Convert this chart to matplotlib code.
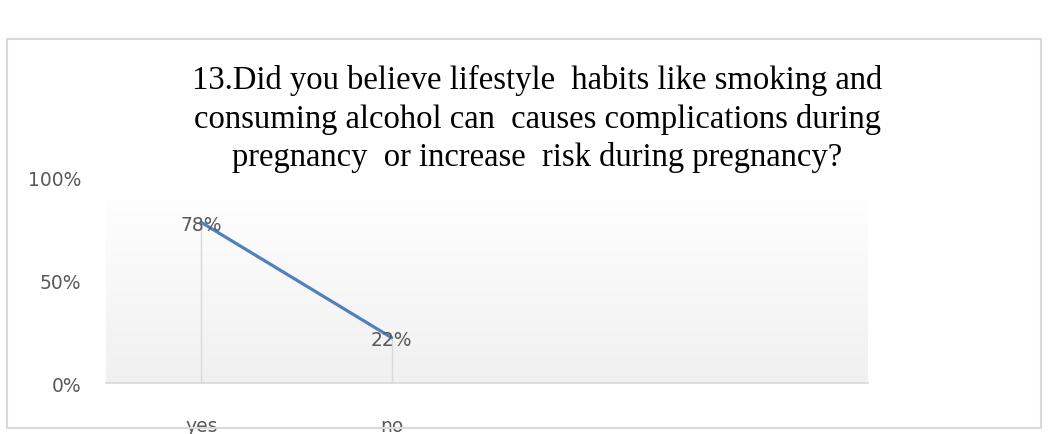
import numpy as np
import matplotlib
matplotlib.use("Agg")
from matplotlib import pyplot as plt
from matplotlib.patches import Rectangle

categories = ["yes", "no"]
values = [78, 22]
labels = ["78%", "22%"]
yticks = [0, 50, 100]
ytick_labels = ["0%", "50%", "100%"]
n_slots = 4  # the chart reserves room for 4 categories

title = ("13.Did you believe lifestyle  habits like smoking and\n"
         "consuming alcohol can  causes complications during\n"
         "pregnancy  or increase  risk during pregnancy?")

fig = plt.figure(figsize=(10.49, 4.35), dpi=100)
ax = fig.add_axes([0.101, 0.1172, 0.7264, 0.4736])

# outer chart border
border = Rectangle((7 / 1049, 1 - 429 / 435), 1034 / 1049, 389 / 435,
                   transform=fig.transFigure, fill=False,
                   edgecolor="#d9d9d9", linewidth=1.5)
fig.patches.append(border)

# plot area gradient (top hidden behind title box)
grad = np.linspace(0, 1, 256).reshape(-1, 1)
ax.imshow(grad, cmap=matplotlib.colors.LinearSegmentedColormap.from_list(
    "g", ["#f0f0f0", "#fefefe"]), origin="lower", aspect="auto",
    extent=[0, 1, 0, 0.888], transform=ax.transAxes, zorder=0)

x = np.arange(len(categories))
ax.vlines(x, 0, values, color="#d9d9d9", linewidth=1, zorder=1)
ax.plot(x, values, color="#4f81bd", linewidth=2.3, zorder=2,
        solid_capstyle="round")
for xi, v, t in zip(x, values, labels):
    ax.text(xi, v - 1, t, ha="center", va="center", fontsize=13.5,
            color="#595959", zorder=3)

ax.set_xlim(-0.5, n_slots - 0.5)
ax.set_ylim(0, 100)
ax.set_facecolor("none")
ax.set_xticks(x)
ax.set_xticklabels(categories)
ax.set_yticks(yticks)
ax.set_yticklabels(ytick_labels)
ax.tick_params(axis="both", length=0, labelsize=13.5, labelcolor="#595959")
ax.tick_params(axis="x", pad=24)
ax.tick_params(axis="y", pad=18)
for s in ["top", "right", "left"]:
    ax.spines[s].set_visible(False)
ax.spines["bottom"].set_color("#d9d9d9")
ax.spines["bottom"].set_linewidth(1.2)

fig.text(0.512, 1 - 119 / 435, title, ha="center", va="center",
         family="Liberation Serif", fontsize=23.5, linespacing=1.32,
         color="#000000")

plt.savefig("out.png", dpi=100)
